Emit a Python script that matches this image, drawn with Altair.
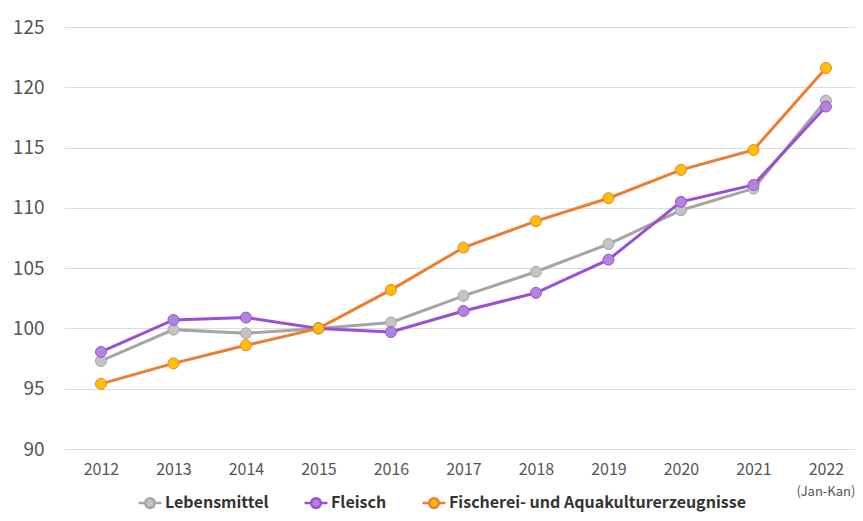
import altair as alt
import pandas as pd

years = ["2012", "2013", "2014", "2015", "2016", "2017", "2018", "2019", "2020", "2021", "2022"]
lebensmittel = [97.3, 99.9, 99.6, 100.0, 100.5, 102.7, 104.7, 107.0, 109.8, 111.6, 118.9]
fleisch = [98.05, 100.7, 100.9, 100.0, 99.7, 101.45, 102.95, 105.7, 110.5, 111.9, 118.4]
fischerei = [95.4, 97.1, 98.6, 100.0, 103.2, 106.7, 108.9, 110.8, 113.15, 114.8, 121.6]
series_names = ["Lebensmittel", "Fleisch", "Fischerei- und Aquakulturerzeugnisse"]
line_colors = ["#A5A5A5", "#9B4FD6", "#ED7D31"]
fill_colors = ["#C4C4C4", "#B384DE", "#FFC000"]
note_text = "(Jan-Kan)"

rows = []
for i, (name, vals) in enumerate(zip(series_names, [lebensmittel, fleisch, fischerei])):
    for y, v in zip(years, vals):
        rows.append({"year": y, "value": v, "series": name, "ord": i})
df = pd.DataFrame(rows)

FONT = "Noto Sans CJK KR"
W, H = 791, 422

x_scale = alt.Scale(type="point", padding=0.455, align=0.56, domain=years)
x_enc = alt.X("year:N", scale=x_scale,
              axis=alt.Axis(title=None, labelAngle=0, labelFontSize=16, labelColor="#555555",
                            labelPadding=12, ticks=False, domain=False, grid=False,
                            labelFont=FONT))
y_enc = alt.Y("value:Q", scale=alt.Scale(domain=[90, 125], nice=False, zero=False),
              axis=alt.Axis(title=None, values=[90, 95, 100, 105, 110, 115, 120, 125],
                            labelFontSize=19, labelColor="#555555", labelPadding=20,
                            ticks=False, domain=False, gridColor="#DDDDDD", gridWidth=1,
                            labelFont=FONT))

lines = alt.Chart(df).mark_line(strokeWidth=3).encode(
    x=x_enc, y=y_enc,
    stroke=alt.Stroke("series:N", scale=alt.Scale(domain=series_names, range=line_colors),
                      legend=alt.Legend(title=None)),
)

sym = "M-1,0L-0.42,0M0.42,0L1,0M0.42,0A0.42,0.42 0 1 1 -0.42,0A0.42,0.42 0 1 1 0.42,0Z"

points = alt.Chart(df).mark_point(filled=True, size=120, strokeWidth=1, opacity=1).encode(
    x=x_enc, y=y_enc,
    fill=alt.Fill("series:N", scale=alt.Scale(domain=series_names, range=fill_colors),
                  legend=alt.Legend(title=None)),
    stroke=alt.Stroke("series:N", legend=alt.Legend(title=None)),
)

note_df = pd.DataFrame({"year": [years[-1]], "text": [note_text]})
note = alt.Chart(note_df).mark_text(fontSize=13, color="#555555", font=FONT, baseline="middle").encode(
    x=x_enc,
    y=alt.value(H + 43),
    text="text:N",
)

chart = alt.layer(lines, points, note).properties(
    width=W, height=H,
    background="white",
    autosize=alt.AutoSizeParams(type="none"),
    padding={"left": 56, "top": 19, "right": 0, "bottom": 64},
).configure_view(stroke=None).configure_legend(
    orient="none", direction="horizontal", legendX=73, legendY=463,
    symbolType=sym, symbolSize=529, symbolStrokeWidth=2.5,
    labelFontSize=16, labelFont=FONT, labelFontWeight="bold", labelColor="#333333",
    columnPadding=30, labelOffset=2, labelLimit=400, symbolOpacity=1,
)

chart.save("out.html", embed_options={"renderer": "svg", "actions": False})
